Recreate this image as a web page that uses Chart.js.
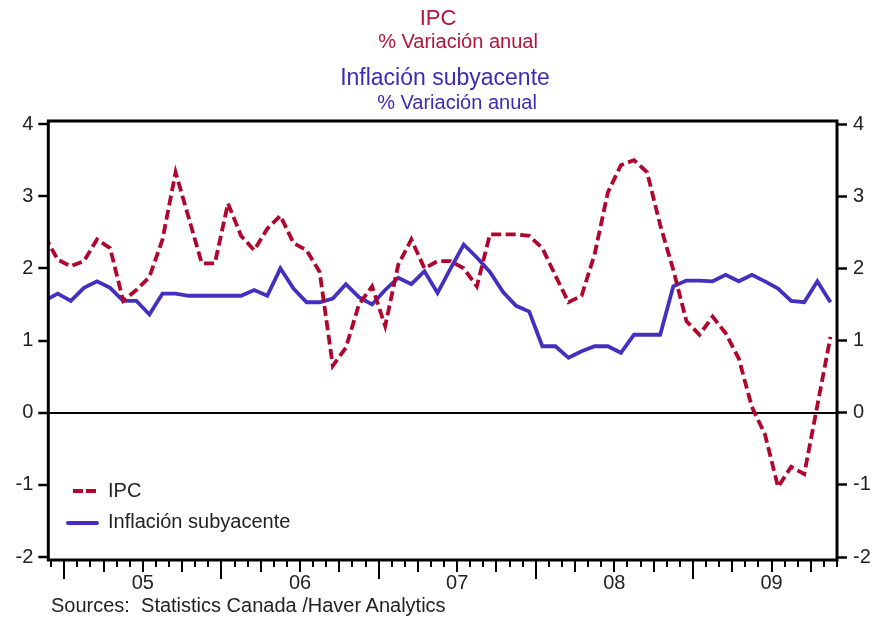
<!DOCTYPE html>
<html>
<head>
<meta charset="utf-8">
<script src="https://cdn.jsdelivr.net/npm/chart.js@4.4.1/dist/chart.umd.min.js"></script>
<style>
  body { margin: 0; background: #fff; }
  #wrap { position: relative; width: 877px; height: 618px; font-family: "Liberation Sans", Arial, sans-serif; }
  #chart { position: absolute; left: 0; top: 0; }
  .t { position: absolute; white-space: nowrap; line-height: 1; transform: translateX(-50%); }
  .red { color: #b3143c; }
  .blue { color: #3d2ab8; }
</style>
</head>
<body>
<div id="wrap">
  <canvas id="chart" width="877" height="618"></canvas>
  <div class="t red" style="left:438px; top:7px; font-size:22px;">IPC</div>
  <div class="t red" style="left:458px; top:31px; font-size:20px;">% Variación anual</div>
  <div class="t blue" style="left:445px; top:66px; font-size:23px;">Inflación subyacente</div>
  <div class="t blue" style="left:457px; top:92px; font-size:20px;">% Variación anual</div>
  <div class="t" style="left:51px; top:595px; font-size:20px; color:#222; transform:none;">Sources:&nbsp; Statistics Canada /Haver Analytics</div>
</div>
<script>
// serie mensual: nov 2004 .. nov 2009 (mes 0 = ene 2005)
const firstMonth = -2;
const ipc = [
  2.45, 2.12,
  2.03, 2.10, 2.40, 2.28, 1.55, 1.70, 1.88, 2.40, 3.33, 2.70, 2.07, 2.07,
  2.90, 2.45, 2.25, 2.55, 2.73, 2.35, 2.25, 1.95, 0.65, 0.90, 1.50, 1.75,
  1.20, 2.05, 2.40, 2.00, 2.10, 2.10, 2.00, 1.75, 2.47, 2.47, 2.47, 2.45,
  2.28, 1.90, 1.53, 1.62, 2.20, 3.05, 3.43, 3.50, 3.33, 2.60, 1.98, 1.27,
  1.08, 1.33, 1.10, 0.75, 0.08, -0.30, -1.03, -0.75, -0.85, 0.10, 1.05
];
const subyacente = [
  1.55, 1.65,
  1.55, 1.73, 1.82, 1.73, 1.55, 1.55, 1.36, 1.65, 1.65, 1.62, 1.62, 1.62,
  1.62, 1.62, 1.70, 1.62, 2.00, 1.72, 1.53, 1.53, 1.58, 1.78, 1.60, 1.50,
  1.70, 1.87, 1.78, 1.96, 1.66, 2.00, 2.33, 2.15, 1.95, 1.67, 1.48, 1.40,
  0.92, 0.92, 0.76, 0.85, 0.92, 0.92, 0.83, 1.08, 1.08, 1.08, 1.75, 1.83,
  1.83, 1.82, 1.91, 1.82, 1.91, 1.82, 1.72, 1.55, 1.53, 1.82, 1.53
];
const yearLabels = ['05', '06', '07', '08', '09'];
const yTicks = [-2, -1, 0, 1, 2, 3, 4];

const redColor = '#b0062e';
const blueColor = '#4430c0';

// puntos a mitad de mes
const toPoints = arr => arr.map((v, i) => ({ x: firstMonth + i + 0.5, y: v }));

const tickFont = { family: '"Liberation Sans", Arial, sans-serif', size: 20 };

// marcas del eje x, marco y leyenda
const framePlugin = {
  id: 'framePlugin',
  afterDraw(chart) {
    const ctx = chart.ctx;
    const a = chart.chartArea;
    const xs = chart.scales.x;
    ctx.save();
    ctx.strokeStyle = '#000';
    ctx.lineWidth = 3;
    ctx.strokeRect(a.left, a.top - 3, a.right - a.left, a.bottom - a.top + 6);

    // marcas mensuales: enero largas, trimestres medianas
    ctx.fillStyle = '#000';
    const y0 = Math.round(a.bottom + 4);
    for (let m = -1; m <= 59; m++) {
      const px = Math.round(xs.getPixelForValue(m));
      const mm = ((m % 12) + 12) % 12;
      let len = 6;
      if (mm === 0) len = 18;
      else if (mm % 3 === 0) len = 11;
      ctx.fillRect(px - 1, y0, 2, len);
    }

    // leyenda
    const items = [
      { ds: chart.data.datasets[0], x0: 73, x1: 97, y: 491, ty: 497 },
      { ds: chart.data.datasets[1], x0: 68, x1: 97, y: 523, ty: 528 }
    ];
    items.forEach(it => {
      ctx.strokeStyle = it.ds.borderColor;
      ctx.lineWidth = 4;
      ctx.setLineDash(it.ds.borderDash ? [10, 3] : []);
      ctx.lineCap = it.ds.borderDash ? 'butt' : 'round';
      ctx.beginPath();
      ctx.moveTo(it.x0, it.y);
      ctx.lineTo(it.x1, it.y);
      ctx.stroke();
      ctx.setLineDash([]);
      ctx.fillStyle = '#222';
      ctx.font = '20px "Liberation Sans", Arial, sans-serif';
      ctx.textBaseline = 'alphabetic';
      ctx.fillText(it.ds.label, 108, it.ty);
    });
    ctx.restore();
  }
};

new Chart(document.getElementById('chart'), {
  type: 'line',
  data: {
    datasets: [
      {
        label: 'IPC',
        data: toPoints(ipc),
        borderColor: redColor,
        borderWidth: 3.8,
        borderDash: [10, 4.5],
        pointRadius: 0,
        tension: 0
      },
      {
        label: 'Inflación subyacente',
        data: toPoints(subyacente),
        borderColor: blueColor,
        borderWidth: 3.8,
        pointRadius: 0,
        tension: 0
      }
    ]
  },
  options: {
    responsive: false,
    animation: false,
    layout: { padding: { top: 124, left: 0, right: 0, bottom: 0 } },
    plugins: { legend: { display: false }, tooltip: { enabled: false } },
    scales: {
      x: {
        type: 'linear',
        min: -1.22,
        max: 59,
        afterBuildTicks: scale => {
          const t = [];
          for (let m = -1; m <= 59; m++) t.push({ value: m });
          scale.ticks = t;
        },
        afterFit: scale => { scale.height = 61; },
        grid: { display: false, drawTicks: false },
        border: { display: false },
        ticks: {
          autoSkip: false,
          maxRotation: 0,
          padding: 14,
          color: '#222',
          font: tickFont,
          callback: v => {
            const mm = ((v % 12) + 12) % 12;
            return mm === 6 ? yearLabels[Math.floor(v / 12)] : '';
          }
        }
      },
      y: {
        position: 'left',
        min: -2,
        max: 4,
        afterBuildTicks: scale => { scale.ticks = yTicks.map(v => ({ value: v })); },
        afterFit: scale => { scale.width = 48.3; },
        border: { display: false },
        grid: {
          color: c => (c.tick && c.tick.value === 0 ? '#000' : 'rgba(0,0,0,0)'),
          lineWidth: 2,
          tickColor: '#000',
          tickLength: 10,
          tickWidth: 2.5
        },
        ticks: { padding: 5, color: '#222', font: tickFont }
      },
      y2: {
        position: 'right',
        min: -2,
        max: 4,
        afterBuildTicks: scale => { scale.ticks = yTicks.map(v => ({ value: v })); },
        afterFit: scale => { scale.width = 40; },
        border: { display: false },
        grid: {
          drawOnChartArea: false,
          tickColor: '#000',
          tickLength: 10,
          tickWidth: 2.5
        },
        ticks: { padding: 6, color: '#222', font: tickFont }
      }
    }
  },
  plugins: [framePlugin]
});
</script>
</body>
</html>
